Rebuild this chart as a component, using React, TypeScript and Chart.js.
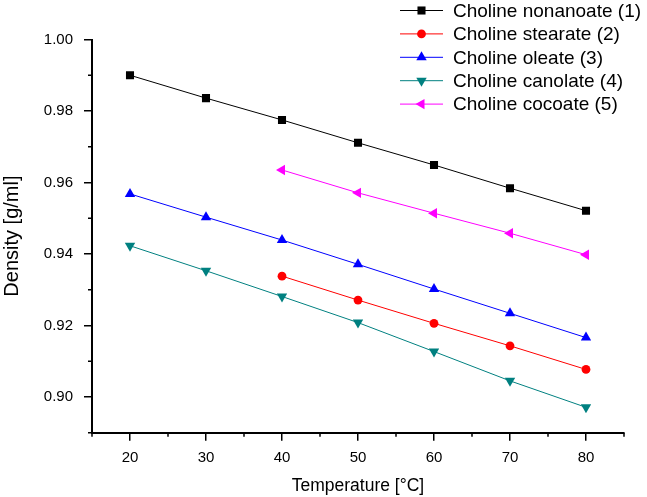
import { useEffect, useRef } from "react";
import { Chart, registerables } from "chart.js";
import { drawPoint } from "chart.js/helpers";

Chart.register(...registerables);

// temperatures [°C]
const temps = [20, 30, 40, 50, 60, 70, 80];

// densities [g/ml], null = not measured
const nonanoate = [0.99, 0.9836, 0.9775, 0.9711, 0.9649, 0.9584, 0.9521];
const stearate = [null, null, 0.9338, 0.9271, 0.9206, 0.9143, 0.9077];
const oleate = [0.9568, 0.9503, 0.9439, 0.9371, 0.9302, 0.9234, 0.9166];
const canolate = [0.9423, 0.9353, 0.9281, 0.9208, 0.9127, 0.9045, 0.8971];
const cocoate = [null, null, 0.9635, 0.9571, 0.9514, 0.9458, 0.9398];

const seriesNames = [
  "Choline nonanoate (1)",
  "Choline stearate (2)",
  "Choline oleate (3)",
  "Choline canolate (4)",
  "Choline cocoate (5)",
];

const FONT = "'Liberation Sans', Arial, sans-serif";

const toPoints = (vals: (number | null)[]) =>
  temps
    .map((t, i) => ({ x: t, y: vals[i] }))
    .filter(p => p.y !== null);

const isMajorX = (v: number) => Math.round(v) % 10 === 0;
const isMajorY = (v: number) => Math.round(v * 100) % 2 === 0;

// short minor ticks (the grid only draws the long major ones)
const minorTicks = {
  id: "minorTicks",
  afterDraw(chart: any) {
    const ctx = chart.ctx;
    const { x, y } = chart.scales;
    const area = chart.chartArea;
    ctx.save();
    ctx.strokeStyle = "#000";
    ctx.lineWidth = 1.5;
    ctx.beginPath();
    x.ticks.forEach((t: any) => {
      if (isMajorX(t.value)) return;
      const px = x.getPixelForValue(t.value);
      ctx.moveTo(px, area.bottom);
      ctx.lineTo(px, area.bottom + 4);
    });
    y.ticks.forEach((t: any) => {
      if (isMajorY(t.value)) return;
      const py = y.getPixelForValue(t.value);
      ctx.moveTo(area.left, py);
      ctx.lineTo(area.left - 4, py);
    });
    ctx.stroke();
    ctx.restore();
  },
};

// legend with a line through each marker, like the original
const lineLegend = {
  id: "lineLegend",
  afterDraw(chart: any) {
    const ctx = chart.ctx;
    ctx.save();
    ctx.font = `19px ${FONT}`;
    ctx.textBaseline = "middle";
    ctx.textAlign = "left";
    chart.data.datasets.forEach((ds: any, i: number) => {
      const yy = 10.5 + i * 23.4;
      ctx.strokeStyle = ds.borderColor;
      ctx.lineWidth = 1;
      ctx.beginPath();
      ctx.moveTo(400, yy);
      ctx.lineTo(443, yy);
      ctx.stroke();
      ctx.fillStyle = ds.backgroundColor;
      ctx.strokeStyle = ds.backgroundColor;
      drawPoint(ctx, {
        pointStyle: ds.pointStyle,
        rotation: ds.pointRotation || 0,
        radius: ds.pointRadius,
        borderWidth: 0,
      }, 421.5, yy);
      ctx.fillStyle = "#000";
      ctx.fillText(ds.label, 453, yy + 1);
    });
    ctx.restore();
  },
};

export default function App() {
  const chartRef = useRef<HTMLCanvasElement>(null);
  const chartInstance = useRef<Chart | null>(null);

  useEffect(() => {
    if (!chartRef.current) return;
    if (chartInstance.current) chartInstance.current.destroy();
    const ctx = chartRef.current.getContext("2d");
    if (!ctx) return;

    const mk = (label: string, vals: (number | null)[], color: string, style: string, radius: number, rotation = 0) => ({
      label,
      data: toPoints(vals),
      borderColor: color,
      backgroundColor: color,
      borderWidth: 1,
      pointStyle: style,
      pointRadius: radius,
      pointRotation: rotation,
      pointBorderWidth: 0,
      pointBackgroundColor: color,
      tension: 0,
    });

    chartInstance.current = new Chart(ctx, {
      type: "line",
      data: {
        datasets: [
          mk(seriesNames[0], nonanoate, "#000000", "rect", 5.7),
          mk(seriesNames[1], stearate, "#FF0000", "circle", 4.4),
          mk(seriesNames[2], oleate, "#0000FF", "triangle", 6),
          mk(seriesNames[3], canolate, "#008080", "triangle", 6, 180),
          mk(seriesNames[4], cocoate, "#FF00FF", "triangle", 6, 270),
        ] as any,
      },
      options: {
        responsive: false,
        animation: false,
        layout: { padding: { top: 39.5, right: 23, bottom: 0, left: 0 } },
        plugins: {
          legend: { display: false },
          tooltip: { enabled: false },
        },
        scales: {
          x: {
            type: "linear",
            min: 15,
            max: 85,
            afterFit: (s: any) => { s.height = 64.3; },
            afterBuildTicks: (s: any) => {
              const t = [];
              for (let v = 15; v <= 85; v += 5) t.push({ value: v });
              s.ticks = t;
            },
            border: { display: true, color: "#000", width: 2 },
            grid: {
              display: true,
              drawOnChartArea: false,
              drawTicks: true,
              tickLength: 8,
              lineWidth: 1.5,
              color: (c: any) => (c.tick && isMajorX(c.tick.value) ? "#000" : "rgba(0,0,0,0)"),
            },
            ticks: {
              autoSkip: false,
              maxRotation: 0,
              padding: 8,
              color: "#000",
              font: { family: FONT, size: 15 },
              callback: (v: any) => (isMajorX(v) ? String(v) : ""),
            },
            title: {
              display: true,
              text: "Temperature [°C]",
              color: "#000",
              font: { family: FONT, size: 17.5 },
              padding: { top: 0, bottom: 0 },
            },
          },
          y: {
            min: 0.89,
            max: 1.0,
            afterFit: (s: any) => { s.width = 92; },
            afterBuildTicks: (s: any) => {
              const t = [];
              for (let k = 89; k <= 100; k++) t.push({ value: k / 100 });
              s.ticks = t;
            },
            border: { display: true, color: "#000", width: 2 },
            grid: {
              display: true,
              drawOnChartArea: false,
              drawTicks: true,
              tickLength: 8,
              lineWidth: 1.5,
              color: (c: any) => (c.tick && isMajorY(c.tick.value) ? "#000" : "rgba(0,0,0,0)"),
            },
            ticks: {
              autoSkip: false,
              padding: 11,
              color: "#000",
              font: { family: FONT, size: 15 },
              callback: (v: any) => (isMajorY(v) ? Number(v).toFixed(2) : ""),
            },
            title: {
              display: true,
              text: "Density [g/ml]",
              color: "#000",
              font: { family: FONT, size: 20 },
              padding: { top: 0, bottom: 0 },
            },
          },
        },
      },
      plugins: [minorTicks, lineLegend],
    });

    return () => {
      if (chartInstance.current) {
        chartInstance.current.destroy();
        chartInstance.current = null;
      }
    };
  }, []);

  return (
    <div style={{ position: "fixed", left: 0, top: 0, width: 647, height: 497, background: "#fff" }}>
      <canvas ref={chartRef} width={647} height={497} style={{ width: 647, height: 497 }}></canvas>
    </div>
  );
}
